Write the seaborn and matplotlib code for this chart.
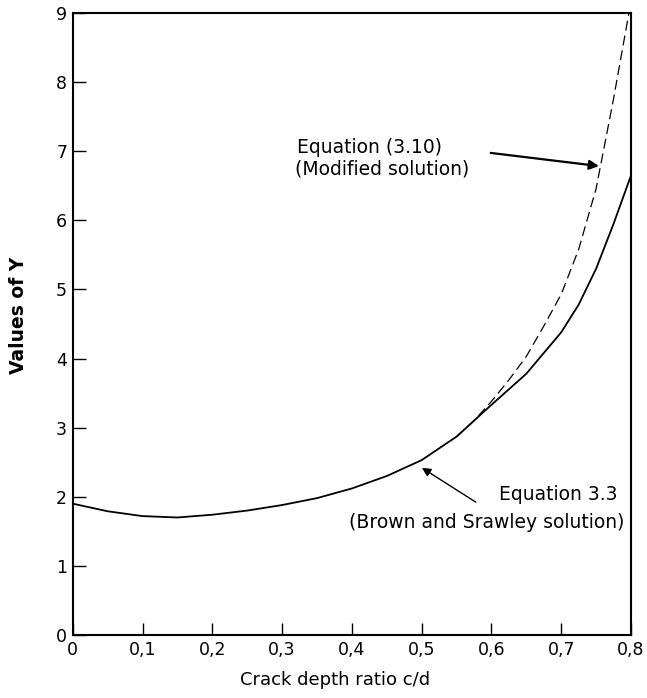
import pandas as pd
import seaborn as sns
import matplotlib.pyplot as plt

# Crack depth ratio c/d and Y values
a_brown = [0, 0.05, 0.1, 0.15, 0.2, 0.25, 0.3, 0.35, 0.4, 0.45, 0.5,
           0.55, 0.6, 0.65, 0.7, 0.725, 0.75, 0.775, 0.8]
y_brown = [1.90, 1.79, 1.72, 1.70, 1.74, 1.80, 1.88, 1.98, 2.12, 2.30, 2.53,
           2.87, 3.33, 3.78, 4.38, 4.78, 5.30, 5.95, 6.65]

a_mod = [0.55, 0.575, 0.6, 0.625, 0.65, 0.675, 0.7, 0.725, 0.75, 0.775, 0.797]
y_mod = [2.87, 3.10, 3.38, 3.69, 4.03, 4.47, 4.93, 5.58, 6.46, 7.76, 9.0]

x_ticks = [0, 0.1, 0.2, 0.3, 0.4, 0.5, 0.6, 0.7, 0.8]
x_ticklabels = ["0", "0,1", "0,2", "0,3", "0,4", "0,5", "0,6", "0,7", "0,8"]
y_ticks = [0, 1, 2, 3, 4, 5, 6, 7, 8, 9]

df_brown = pd.DataFrame({"a": a_brown, "Y": y_brown})
df_mod = pd.DataFrame({"a": a_mod, "Y": y_mod})

sns.set_style("ticks")
plt.rcParams["font.family"] = ["DejaVu Sans"]
plt.rcParams["text.color"] = "black"
plt.rcParams["axes.labelcolor"] = "black"
plt.rcParams["xtick.color"] = "black"
plt.rcParams["ytick.color"] = "black"

fig = plt.figure(figsize=(6.47, 6.98), dpi=100)
ax = fig.add_axes([0.1124, 0.0903, 0.8629, 0.8911])

sns.lineplot(data=df_brown, x="a", y="Y", ax=ax, color="black", lw=1.3)
sns.lineplot(data=df_mod, x="a", y="Y", ax=ax, color="black", lw=0.9,
             linestyle=(0, (8, 4)))

ax.set_xlim(0, 0.8)
ax.set_ylim(0, 9)
ax.set_xticks(x_ticks)
ax.set_xticklabels(x_ticklabels)
ax.set_yticks(y_ticks)
ax.tick_params(direction="in", length=9, width=1, labelsize=12.5, pad=4)
for sp in ax.spines.values():
    sp.set_linewidth(1.5)
    sp.set_color("black")

ax.set_xlabel("Crack depth ratio c/d", fontsize=13)
ax.set_ylabel("Values of Y", fontsize=13.5, fontweight="bold")
ax.xaxis.set_label_coords(0.47, -0.058)
ax.yaxis.set_label_coords(-0.081, 0.514)

# annotations
ax.annotate("", xy=(0.758, 6.78), xytext=(0.595, 6.98),
            arrowprops=dict(arrowstyle="-|>", color="black", lw=1.6,
                            mutation_scale=14))
ax.text(0.321, 6.98, "Equation (3.10)", fontsize=13.5, va="baseline")
ax.text(0.318, 6.66, "(Modified solution)", fontsize=13.5, va="baseline")

ax.annotate("", xy=(0.497, 2.44), xytext=(0.581, 1.90),
            arrowprops=dict(arrowstyle="-|>", color="black", lw=1.0,
                            mutation_scale=13))
ax.text(0.780, 1.95, "Equation 3.3", fontsize=13.5, va="baseline", ha="right")
ax.text(0.791, 1.55, "(Brown and Srawley solution)", fontsize=13.5,
        va="baseline", ha="right")

fig.savefig("out.png", dpi=100)
